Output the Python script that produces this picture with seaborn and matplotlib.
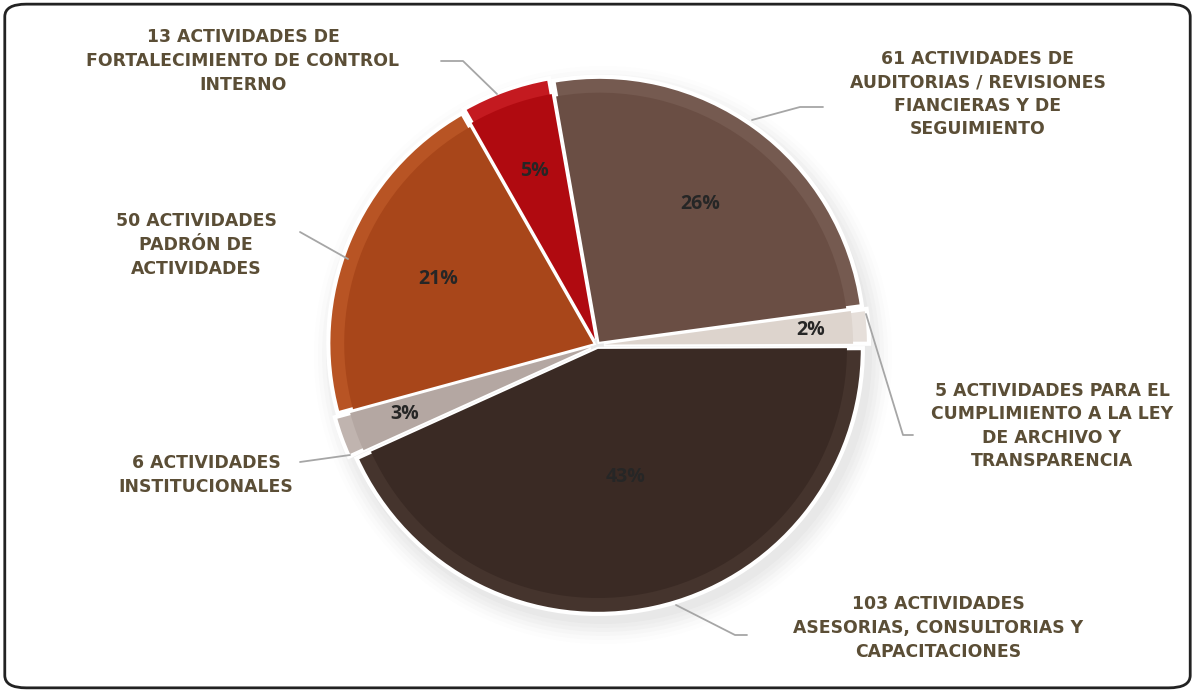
import numpy as np
import matplotlib.pyplot as plt
import seaborn as sns
from matplotlib.patches import FancyBboxPatch

# Data
categories = [
    "61 ACTIVIDADES DE\nAUDITORIAS / REVISIONES\nFIANCIERAS Y DE\nSEGUIMIENTO",
    "5 ACTIVIDADES PARA EL\nCUMPLIMIENTO A LA LEY\nDE ARCHIVO Y\nTRANSPARENCIA",
    "103 ACTIVIDADES\nASESORIAS, CONSULTORIAS Y\nCAPACITACIONES",
    "6 ACTIVIDADES\nINSTITUCIONALES",
    "50 ACTIVIDADES\nPADRÓN DE\nACTIVIDADES",
    "13 ACTIVIDADES DE\nFORTALECIMIENTO DE CONTROL\nINTERNO",
]
counts = [61, 5, 103, 6, 50, 13]
colors = ["#6a4e44", "#ddd4cd", "#3a2a24", "#b4a7a2", "#a8461a", "#b00a10"]
rim_colors = ["#755a50", "#e6dfda", "#45342d", "#c0b4af", "#b85424", "#c41a20"]

# Layout (pixel coords, y up)
W, H = 1195, 692
cx, cy, R = 597, 347, 265
explode = [4, 7, 4, 7, 4, 6]
pct_dist = [0.66, 0.81, 0.51, 0.77, 0.65, 0.70]
label_pos = [(978, 598), (1052, 266), (938, 64), (206, 217), (196, 447), (243, 631)]
leaders = [
    [(752, 572), (800, 585), (823, 585)],
    [(866, 378), (903, 257), (913, 257)],
    [(676, 87), (735, 57), (747, 57)],
    [(350, 237), (300, 230)],
    [(348, 433), (300, 460)],
    [(497, 598), (463, 631), (441, 631)],
]

sns.set_theme(style="white")
plt.rcParams["font.family"] = ["DejaVu Sans"]

fig = plt.figure(figsize=(W / 100, H / 100), dpi=100)
ax = fig.add_axes([0, 0, 1, 1])

# soft shadow under the pie
for k, a in zip(range(6), np.linspace(0.05, 0.015, 6)):
    ax.add_patch(plt.Circle((cx + 6, cy - 10), R + 4 + k * 4, color="#8a8a8a",
                            alpha=a, lw=0, zorder=0))

wedges, _ = ax.pie(counts, colors=rim_colors, startangle=100, counterclock=False,
                   explode=explode, radius=R, center=(cx, cy),
                   wedgeprops=dict(edgecolor="white", linewidth=3))
inner, _, autotexts = ax.pie(counts, colors=colors, startangle=100, counterclock=False,
                             explode=explode, radius=R * 0.94, center=(cx, cy),
                             autopct="%1.0f%%", pctdistance=0.7,
                             wedgeprops=dict(edgecolor="none", linewidth=0),
                             textprops=dict(fontsize=14, fontweight="bold",
                                            color="#262626"))
for w in inner:
    w.set_zorder(2)

# move percent labels to their own radial distance
for w, t, d in zip(wedges, autotexts, pct_dist):
    ang = np.deg2rad((w.theta1 + w.theta2) / 2)
    t.set_position((cx + d * R * np.cos(ang), cy + d * R * np.sin(ang)))
    t.set_zorder(5)
    t.set_fontfamily(["Open Sans", "DejaVu Sans"])

for lab, (x, y) in zip(categories, label_pos):
    ax.text(x, y, lab, ha="center", va="center", fontsize=12.4, fontweight="bold",
            color="#5b4e36", linespacing=1.4)

for pts in leaders:
    xs, ys = zip(*pts)
    ax.plot(xs, ys, color="#a6a6a6", lw=1.3, zorder=1)

ax.set_xlim(0, W)
ax.set_ylim(0, H)
ax.set_aspect("equal")
ax.axis("off")

frame = FancyBboxPatch((0.004, 0.006), 0.992, 0.988,
                       boxstyle="round,pad=0,rounding_size=0.018",
                       transform=fig.transFigure, fill=False,
                       edgecolor="#222222", linewidth=2)
fig.patches.append(frame)

fig.savefig("out.png", dpi=100, facecolor="white")
